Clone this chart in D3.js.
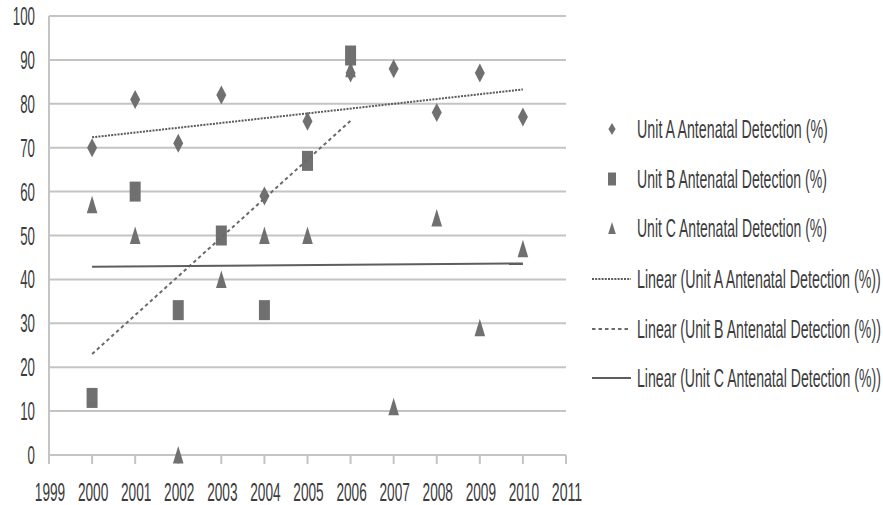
<!DOCTYPE html>
<html>
<head>
<meta charset="utf-8">
<script src="https://cdn.jsdelivr.net/npm/d3@7"></script>
<style>
  html, body { margin: 0; padding: 0; background: #fff; }
  svg { display: block; }
  text { font-family: "Liberation Sans", Arial, sans-serif; fill: #3c3c3c; }
</style>
</head>
<body>
<svg id="chart" width="883" height="505"></svg>
<script>
// Antenatal detection rates by unit, 2000-2010
const years = [2000, 2001, 2002, 2003, 2004, 2005, 2006, 2007, 2008, 2009, 2010];
const unitA = [70, 81, 71, 82, 59, 76, 87, 88, 78, 87, 77];
const unitBYears = [2000, 2001, 2002, 2003, 2004, 2005, 2006];
const unitB = [13, 60, 33, 50, 33, 67, 91];
const unitC = [57, 50, 0, 40, 50, 50, 88, 11, 54, 29, 47];

const xTicks = [1999, 2000, 2001, 2002, 2003, 2004, 2005, 2006, 2007, 2008, 2009, 2010, 2011];
const yTicks = [0, 10, 20, 30, 40, 50, 60, 70, 80, 90, 100];

const legendLabels = [
  "Unit A Antenatal Detection (%)",
  "Unit B Antenatal Detection (%)",
  "Unit C Antenatal Detection (%)",
  "Linear (Unit A Antenatal Detection (%))",
  "Linear (Unit B Antenatal Detection (%))",
  "Linear (Unit C Antenatal Detection (%))"
];

const svg = d3.select("#chart");
const x = d3.scaleLinear().domain([1999, 2011]).range([49, 566]);
const y = d3.scaleLinear().domain([0, 100]).range([455, 16]);

const markerColor = "#707070";
const gridColor = "#c4c4c4";

// horizontal gridlines
svg.append("g").selectAll("line").data(yTicks).join("line")
  .attr("x1", x(1999)).attr("x2", x(2011))
  .attr("y1", d => y(d)).attr("y2", d => y(d))
  .attr("stroke", gridColor).attr("stroke-width", 2);

// vertical axis line
svg.append("line")
  .attr("x1", x(1999)).attr("x2", x(1999))
  .attr("y1", y(100)).attr("y2", y(0))
  .attr("stroke", gridColor).attr("stroke-width", 2);

// x axis tick marks
svg.append("g").selectAll("line").data(xTicks).join("line")
  .attr("x1", d => x(d)).attr("x2", d => x(d))
  .attr("y1", y(0)).attr("y2", y(0) + 9)
  .attr("stroke", gridColor).attr("stroke-width", 2);

// tall, condensed lettering: squeeze a text horizontally to a target width
function condense(sel, widthOf) {
  sel.each(function (d, i) {
    const t = d3.select(this);
    const len = this.getComputedTextLength();
    const sx = widthOf(t.text(), i) / len;
    t.attr("transform", `translate(${t.attr("data-x")},${t.attr("data-y")}) scale(${sx},1)`);
  });
}

// y tick labels
svg.append("g").selectAll("text").data(yTicks).join("text")
  .attr("data-x", 35).attr("data-y", d => y(d) + 9)
  .attr("text-anchor", "end")
  .attr("font-size", 25)
  .text(d => d)
  .call(condense, s => s.length * 7.4);

// x tick labels
svg.append("g").selectAll("text").data(xTicks).join("text")
  .attr("data-x", d => x(d) + 1).attr("data-y", 501)
  .attr("text-anchor", "middle")
  .attr("font-size", 26)
  .text(d => d)
  .call(condense, s => s.length * 7.6);

// least-squares trend line
function trend(xs, ys) {
  const mx = d3.mean(xs), my = d3.mean(ys);
  let num = 0, den = 0;
  xs.forEach((v, i) => { num += (v - mx) * (ys[i] - my); den += (v - mx) * (v - mx); });
  const b = num / den, a = my - b * mx;
  const x0 = d3.min(xs), x1 = d3.max(xs);
  return [[x0, a + b * x0], [x1, a + b * x1]];
}
const line = d3.line().x(d => x(d[0])).y(d => y(d[1]));

// marker shapes (centered at origin)
const diamondPath = "M0,-9.5 L5,0 L0,9.5 L-5,0 Z";
const squarePath = "M-5.5,-10 L5.5,-10 L5.5,10 L-5.5,10 Z";
const trianglePath = "M0,-9 L5.3,8.5 L-5.3,8.5 Z";

const seriesA = years.map((yr, i) => ({ yr, v: unitA[i] }));
const seriesB = unitBYears.map((yr, i) => ({ yr, v: unitB[i] }));
const seriesC = years.map((yr, i) => ({ yr, v: unitC[i] }));

const marks = svg.append("g");
marks.selectAll(".c").data(seriesC).join("path").attr("class", "c")
  .attr("d", trianglePath).attr("fill", markerColor)
  .attr("transform", d => `translate(${x(d.yr)},${y(d.v)})`);
marks.selectAll(".a").data(seriesA).join("path").attr("class", "a")
  .attr("d", diamondPath).attr("fill", markerColor)
  .attr("transform", d => `translate(${x(d.yr)},${y(d.v)})`);
marks.selectAll(".b").data(seriesB).join("path").attr("class", "b")
  .attr("d", squarePath).attr("fill", markerColor)
  .attr("transform", d => `translate(${x(d.yr)},${y(d.v)})`);

// trend lines
const trendStyles = [
  { dash: "2,1.2", color: "#5a5a5a", width: 2 },
  { dash: "3.5,3", color: "#6a6a6a", width: 2 },
  { dash: null, color: "#5e5e5e", width: 2 }
];
const trends = [trend(years, unitA), trend(unitBYears, unitB), trend(years, unitC)];
trends.forEach((t, i) => {
  svg.append("path").attr("d", line(t))
    .attr("fill", "none")
    .attr("stroke", trendStyles[i].color)
    .attr("stroke-width", trendStyles[i].width)
    .attr("stroke-dasharray", trendStyles[i].dash);
});

// legend
const legendY = [129, 179, 228, 279, 329, 378];
const legendWidths = [191, 190, 190, 244, 244, 244];
const leg = svg.append("g");
const legendShapes = [
  "M0,-6 L3.6,0 L0,6 L-3.6,0 Z",
  "M-4,-6.5 L4,-6.5 L4,6.5 L-4,6.5 Z",
  "M0,-6 L3.8,6 L-3.8,6 Z"
];
legendLabels.forEach((lab, i) => {
  const g = leg.append("g").attr("transform", `translate(0,${legendY[i]})`);
  if (i < 3) {
    g.append("path").attr("d", legendShapes[i]).attr("fill", markerColor)
      .attr("transform", "translate(612,0)");
  } else {
    const s = trendStyles[i - 3];
    g.append("line").attr("x1", 592).attr("x2", 631).attr("y1", 0).attr("y2", 0)
      .attr("stroke", s.color).attr("stroke-width", s.width)
      .attr("stroke-dasharray", s.dash);
  }
  g.append("text")
    .attr("data-x", 637).attr("data-y", 9)
    .attr("font-size", 26)
    .text(lab)
    .call(condense, () => legendWidths[i]);
});
</script>
</body>
</html>
